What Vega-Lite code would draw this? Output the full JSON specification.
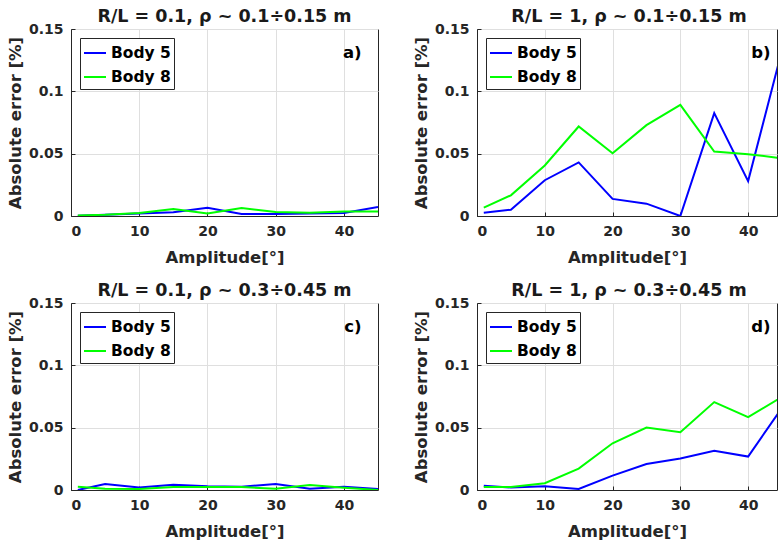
{
  "$schema": "https://vega.github.io/schema/vega-lite/v6.json",
  "padding": {"left": 6, "top": 7, "right": 0, "bottom": 0},
  "background": "white",
  "datasets": {
    "a": [
      {"amp": 1, "series": "Body 5", "err": 0.0003},
      {"amp": 5, "series": "Body 5", "err": 0.001},
      {"amp": 10, "series": "Body 5", "err": 0.002},
      {"amp": 15, "series": "Body 5", "err": 0.003},
      {"amp": 20, "series": "Body 5", "err": 0.0067},
      {"amp": 25, "series": "Body 5", "err": 0.0016},
      {"amp": 30, "series": "Body 5", "err": 0.0016},
      {"amp": 35, "series": "Body 5", "err": 0.002},
      {"amp": 40, "series": "Body 5", "err": 0.0025},
      {"amp": 45, "series": "Body 5", "err": 0.0072},
      {"amp": 1, "series": "Body 8", "err": 0.0005},
      {"amp": 5, "series": "Body 8", "err": 0.001},
      {"amp": 10, "series": "Body 8", "err": 0.0024},
      {"amp": 15, "series": "Body 8", "err": 0.0056},
      {"amp": 20, "series": "Body 8", "err": 0.002},
      {"amp": 25, "series": "Body 8", "err": 0.0064},
      {"amp": 30, "series": "Body 8", "err": 0.0032},
      {"amp": 35, "series": "Body 8", "err": 0.0027},
      {"amp": 40, "series": "Body 8", "err": 0.0037},
      {"amp": 45, "series": "Body 8", "err": 0.0037}
    ],
    "b": [
      {"amp": 1, "series": "Body 5", "err": 0.0027},
      {"amp": 5, "series": "Body 5", "err": 0.005},
      {"amp": 10, "series": "Body 5", "err": 0.0287},
      {"amp": 15, "series": "Body 5", "err": 0.043},
      {"amp": 20, "series": "Body 5", "err": 0.0137},
      {"amp": 25, "series": "Body 5", "err": 0.0099},
      {"amp": 30, "series": "Body 5", "err": 0.0},
      {"amp": 35, "series": "Body 5", "err": 0.0825},
      {"amp": 40, "series": "Body 5", "err": 0.028},
      {"amp": 45, "series": "Body 5", "err": 0.133},
      {"amp": 1, "series": "Body 8", "err": 0.0067},
      {"amp": 5, "series": "Body 8", "err": 0.0166},
      {"amp": 10, "series": "Body 8", "err": 0.0405},
      {"amp": 15, "series": "Body 8", "err": 0.0718},
      {"amp": 20, "series": "Body 8", "err": 0.0504},
      {"amp": 25, "series": "Body 8", "err": 0.0729},
      {"amp": 30, "series": "Body 8", "err": 0.0892},
      {"amp": 35, "series": "Body 8", "err": 0.0517},
      {"amp": 40, "series": "Body 8", "err": 0.0496},
      {"amp": 45, "series": "Body 8", "err": 0.0463}
    ],
    "c": [
      {"amp": 1, "series": "Body 5", "err": 0.0},
      {"amp": 5, "series": "Body 5", "err": 0.0048},
      {"amp": 10, "series": "Body 5", "err": 0.002},
      {"amp": 15, "series": "Body 5", "err": 0.0043},
      {"amp": 20, "series": "Body 5", "err": 0.003},
      {"amp": 25, "series": "Body 5", "err": 0.0027},
      {"amp": 30, "series": "Body 5", "err": 0.0048},
      {"amp": 35, "series": "Body 5", "err": 0.001},
      {"amp": 40, "series": "Body 5", "err": 0.0027},
      {"amp": 45, "series": "Body 5", "err": 0.0008},
      {"amp": 1, "series": "Body 8", "err": 0.0027},
      {"amp": 5, "series": "Body 8", "err": 0.001},
      {"amp": 10, "series": "Body 8", "err": 0.0008},
      {"amp": 15, "series": "Body 8", "err": 0.0024},
      {"amp": 20, "series": "Body 8", "err": 0.0024},
      {"amp": 25, "series": "Body 8", "err": 0.0024},
      {"amp": 30, "series": "Body 8", "err": 0.001},
      {"amp": 35, "series": "Body 8", "err": 0.004},
      {"amp": 40, "series": "Body 8", "err": 0.0019},
      {"amp": 45, "series": "Body 8", "err": 0.0}
    ],
    "d": [
      {"amp": 1, "series": "Body 5", "err": 0.0035},
      {"amp": 5, "series": "Body 5", "err": 0.002},
      {"amp": 10, "series": "Body 5", "err": 0.003},
      {"amp": 15, "series": "Body 5", "err": 0.0008},
      {"amp": 20, "series": "Body 5", "err": 0.0115},
      {"amp": 25, "series": "Body 5", "err": 0.0209},
      {"amp": 30, "series": "Body 5", "err": 0.0252},
      {"amp": 35, "series": "Body 5", "err": 0.0314},
      {"amp": 40, "series": "Body 5", "err": 0.0268},
      {"amp": 45, "series": "Body 5", "err": 0.066},
      {"amp": 1, "series": "Body 8", "err": 0.0024},
      {"amp": 5, "series": "Body 8", "err": 0.0024},
      {"amp": 10, "series": "Body 8", "err": 0.0054},
      {"amp": 15, "series": "Body 8", "err": 0.0172},
      {"amp": 20, "series": "Body 8", "err": 0.0375},
      {"amp": 25, "series": "Body 8", "err": 0.0501},
      {"amp": 30, "series": "Body 8", "err": 0.0464},
      {"amp": 35, "series": "Body 8", "err": 0.0705},
      {"amp": 40, "series": "Body 8", "err": 0.0584},
      {"amp": 45, "series": "Body 8", "err": 0.0747}
    ]
  },
  "config": {
    "font": "DejaVu Sans",
    "view": {"stroke": "#262626", "strokeWidth": 1},
    "title": {"fontSize": 17.5, "fontWeight": "bold", "color": "#1a1a1a", "offset": -3, "anchor": "middle"},
    "axis": {
      "labelFontSize": 14, "labelFontWeight": "bold", "labelColor": "#262626",
      "titleFontSize": 16.5, "titleFontWeight": "bold", "titleColor": "#262626",
      "gridColor": "#dfdfdf", "gridWidth": 1, "domainColor": "#262626", "domainWidth": 1,
      "ticks": true, "tickSize": -4, "tickColor": "#262626", "tickWidth": 1
    },
    "axisX": {"labelPadding": 12, "titlePadding": 11},
    "axisY": {"labelPadding": 12, "titlePadding": 5},
    "legend": {
      "orient": "top-left", "offset": 9, "strokeColor": "#262626", "fillColor": "white",
      "padding": 3, "symbolType": "stroke", "symbolSize": 484, "symbolStrokeWidth": 2,
      "labelFontSize": 15.5, "labelFontWeight": "bold", "labelColor": "#000000",
      "rowPadding": 3, "labelOffset": 4, "title": null
    }
  },
  "columns": 2,
  "spacing": {"row": 87, "column": 99},
  "bounds": "flush",
  "resolve": {"scale": {"x": "independent", "y": "independent", "color": "independent"}, "legend": {"color": "independent"}},
  "concat": [
    {
      "width": 307, "height": 187,
      "title": "R/L = 0.1, ρ ~ 0.1÷0.15 m",
      "layer": [
        {
          "data": {"name": "a"},
          "mark": {"type": "line", "clip": true, "strokeWidth": 2},
          "encoding": {
            "x": {"field": "amp", "type": "quantitative", "scale": {"domain": [0, 45], "nice": false}, "axis": {"values": [0, 10, 20, 30, 40], "title": "Amplitude[°]"}},
            "y": {"field": "err", "type": "quantitative", "scale": {"domain": [0, 0.15], "nice": false}, "axis": {"values": [0, 0.05, 0.1, 0.15], "format": "~g", "title": "Absolute error [%]"}},
            "color": {"field": "series", "type": "nominal", "scale": {"domain": ["Body 5", "Body 8"], "range": ["#0000ff", "#00ff00"]}}
          }
        },
        {
          "data": {"values": [{}]},
          "mark": {"type": "text", "text": "a)", "align": "right", "baseline": "middle", "fontSize": 16.5, "fontWeight": "bold", "color": "#000000"},
          "encoding": {"x": {"datum": 42.6}, "y": {"datum": 0.131}}
        }
      ]
    },
    {
      "width": 300, "height": 187,
      "title": {"text": "R/L = 1, ρ ~ 0.1÷0.15 m", "dx": 2},
      "layer": [
        {
          "data": {"name": "b"},
          "mark": {"type": "line", "clip": true, "strokeWidth": 2},
          "encoding": {
            "x": {"field": "amp", "type": "quantitative", "scale": {"domain": [0, 44.26], "nice": false}, "axis": {"values": [0, 10, 20, 30, 40], "title": "Amplitude[°]"}},
            "y": {"field": "err", "type": "quantitative", "scale": {"domain": [0, 0.15], "nice": false}, "axis": {"values": [0, 0.05, 0.1, 0.15], "format": "~g", "title": "Absolute error [%]"}},
            "color": {"field": "series", "type": "nominal", "scale": {"domain": ["Body 5", "Body 8"], "range": ["#0000ff", "#00ff00"]}}
          }
        },
        {
          "data": {"values": [{}]},
          "mark": {"type": "text", "text": "b)", "align": "right", "baseline": "middle", "fontSize": 16.5, "fontWeight": "bold", "color": "#000000"},
          "encoding": {"x": {"datum": 43.3}, "y": {"datum": 0.131}}
        }
      ]
    },
    {
      "width": 307, "height": 187,
      "title": "R/L = 0.1, ρ ~ 0.3÷0.45 m",
      "layer": [
        {
          "data": {"name": "c"},
          "mark": {"type": "line", "clip": true, "strokeWidth": 2},
          "encoding": {
            "x": {"field": "amp", "type": "quantitative", "scale": {"domain": [0, 45], "nice": false}, "axis": {"values": [0, 10, 20, 30, 40], "title": "Amplitude[°]"}},
            "y": {"field": "err", "type": "quantitative", "scale": {"domain": [0, 0.15], "nice": false}, "axis": {"values": [0, 0.05, 0.1, 0.15], "format": "~g", "title": "Absolute error [%]"}},
            "color": {"field": "series", "type": "nominal", "scale": {"domain": ["Body 5", "Body 8"], "range": ["#0000ff", "#00ff00"]}}
          }
        },
        {
          "data": {"values": [{}]},
          "mark": {"type": "text", "text": "c)", "align": "right", "baseline": "middle", "fontSize": 16.5, "fontWeight": "bold", "color": "#000000"},
          "encoding": {"x": {"datum": 42.6}, "y": {"datum": 0.131}}
        }
      ]
    },
    {
      "width": 300, "height": 187,
      "title": {"text": "R/L = 1, ρ ~ 0.3÷0.45 m", "dx": 2},
      "layer": [
        {
          "data": {"name": "d"},
          "mark": {"type": "line", "clip": true, "strokeWidth": 2},
          "encoding": {
            "x": {"field": "amp", "type": "quantitative", "scale": {"domain": [0, 44.26], "nice": false}, "axis": {"values": [0, 10, 20, 30, 40], "title": "Amplitude[°]"}},
            "y": {"field": "err", "type": "quantitative", "scale": {"domain": [0, 0.15], "nice": false}, "axis": {"values": [0, 0.05, 0.1, 0.15], "format": "~g", "title": "Absolute error [%]"}},
            "color": {"field": "series", "type": "nominal", "scale": {"domain": ["Body 5", "Body 8"], "range": ["#0000ff", "#00ff00"]}}
          }
        },
        {
          "data": {"values": [{}]},
          "mark": {"type": "text", "text": "d)", "align": "right", "baseline": "middle", "fontSize": 16.5, "fontWeight": "bold", "color": "#000000"},
          "encoding": {"x": {"datum": 43.3}, "y": {"datum": 0.131}}
        }
      ]
    }
  ]
}
